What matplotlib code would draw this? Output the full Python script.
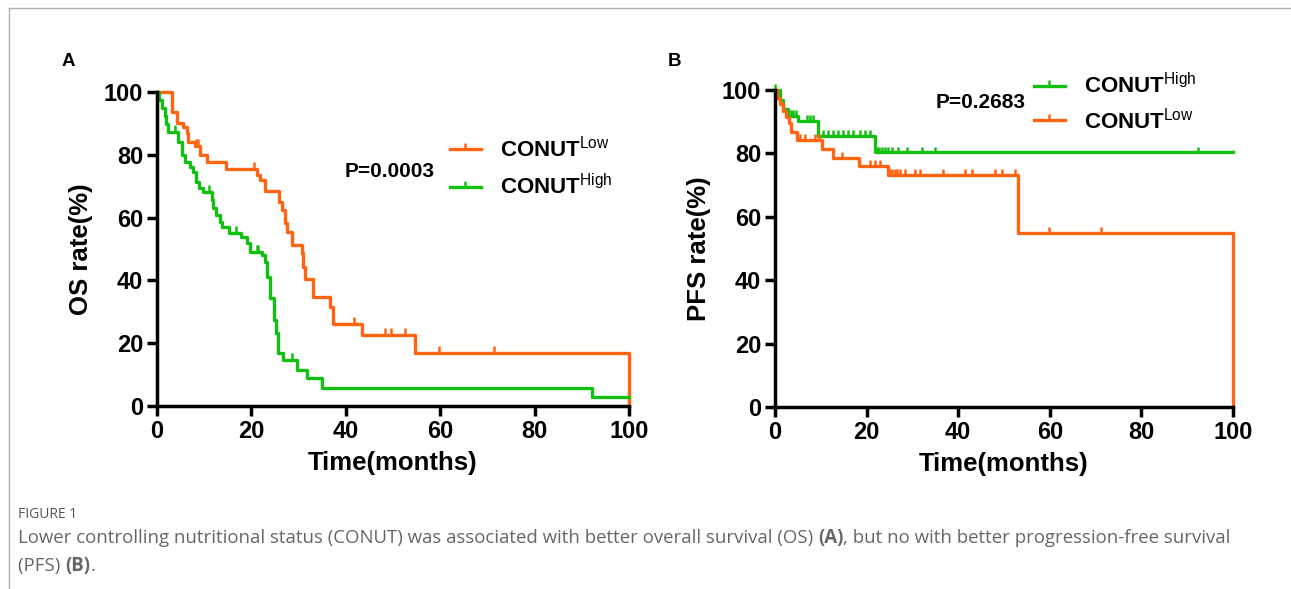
"""Kaplan-Meier curves for OS and PFS by CONUT group (Figure 1 recreation)."""
import numpy as np
import matplotlib
matplotlib.use("Agg")
import matplotlib.pyplot as plt
from matplotlib.lines import Line2D
from matplotlib.path import Path

plt.rcParams["font.family"] = ["Liberation Sans", "DejaVu Sans"]
plt.rcParams["mathtext.fontset"] = "custom"
plt.rcParams["mathtext.rm"] = "Liberation Sans"
plt.rcParams["mathtext.bf"] = "Liberation Sans:bold"

ORANGE = "#ff6410"
GREEN = "#12c012"

# ---- panel A: overall survival ----
os_low_t = [0, 3.1, 4.3, 5.6, 6.3, 6.6, 8.0, 9.1, 10.5, 14.6, 21.1, 21.8, 22.9, 25.9,
            26.4, 27.1, 27.5, 28.5, 30.7, 31.0, 31.4, 33.1, 36.7, 37.2, 43.4, 54.7, 100]
os_low_s = [100, 93.7, 90.0, 89.0, 87.0, 84.0, 82.7, 80.0, 77.8, 75.4, 73.6, 72.0, 68.6, 65.0,
            62.4, 58.2, 55.5, 51.3, 48.6, 44.4, 40.6, 34.8, 31.6, 26.0, 22.6, 17.0, 0]
os_low_cens = [8.2, 8.6, 20.5, 41.7, 48.3, 49.5, 52.6, 59.8, 71.3]

os_high_t = [0, 0.5, 1.0, 1.6, 2.0, 2.4, 4.5, 5.2, 5.9, 7.0, 7.6, 8.3, 8.8, 9.8, 11.6, 11.9,
             12.6, 13.3, 13.7, 15.3, 17.9, 19.0, 19.7, 22.2, 22.9, 23.2, 23.9, 24.8, 25.2,
             25.7, 26.8, 29.6, 31.7, 34.9, 92.1, 100]
os_high_s = [100, 97.4, 94.9, 92.3, 89.7, 87.4, 84.0, 80.0, 77.8, 76.2, 74.6, 71.4, 69.3, 68.2,
             65.6, 63.0, 60.8, 58.7, 57.1, 55.0, 53.9, 51.8, 49.1, 48.1, 46.0, 41.2, 34.3, 27.4,
             23.1, 16.8, 14.6, 11.5, 8.8, 5.6, 2.8, 2.8]
os_high_cens = [3.8, 11.0, 16.7, 21.1, 21.5, 28.7]

# ---- panel B: progression-free survival ----
pfs_high_t = [0, 1.1, 1.8, 2.9, 5.0, 9.4, 21.8, 100]
pfs_high_s = [100, 96.8, 94.0, 91.8, 90.3, 85.5, 80.3, 80.3]
pfs_high_cens = [0, 3.5, 4.0, 4.5, 7.0, 7.6, 8.2, 10.5, 11.6, 12.7, 13.8, 14.9, 16.0, 17.1,
                 18.6, 19.7, 20.7, 22.2, 22.8, 23.3, 24.0, 24.7, 25.5, 26.9, 28.8, 32.0,
                 34.9, 92.3]

pfs_low_t = [0, 0.4, 1.1, 1.8, 2.5, 3.1, 3.5, 4.7, 10.2, 12.7, 18.3, 24.7, 53.1, 100]
pfs_low_s = [100, 97.5, 95.5, 93.5, 91.5, 89.5, 86.9, 84.2, 81.4, 78.7, 76.1, 73.2, 55.0, 0]
pfs_low_cens = [5.5, 6.6, 8.7, 9.5, 14.6, 20.7, 21.8, 22.9, 25.1, 25.6, 26.2, 26.7, 27.3,
                28.4, 30.6, 31.7, 36.7, 41.5, 43.0, 48.0, 49.6, 52.4, 59.9, 71.2]

ticks = [0, 20, 40, 60, 80, 100]


def km(ax, t, s, cens, color, tick=2.2):
    ax.step(t, s, where="post", color=color, lw=2.4, clip_on=False)
    t = np.asarray(t)
    s = np.asarray(s)
    cy = s[np.searchsorted(t, cens, side="right") - 1]
    ax.vlines(cens, cy, cy + tick, color=color, lw=1.8, clip_on=False)


def style(ax, ylabel):
    ax.set_xlim(0, 100)
    ax.set_ylim(0, 100)
    ax.set_xticks(ticks)
    ax.set_yticks(ticks)
    for side in ("top", "right"):
        ax.spines[side].set_visible(False)
    for side in ("left", "bottom"):
        ax.spines[side].set_linewidth(2.5)
    ax.tick_params(length=7, width=2.5, labelsize=17, pad=3)
    for lab in ax.get_xticklabels() + ax.get_yticklabels():
        lab.set_fontweight("bold")
    ax.set_xlabel("Time(months)", fontsize=18.5, fontweight="bold", labelpad=6)
    ax.set_ylabel(ylabel, fontsize=18.5, fontweight="bold", labelpad=8)


tick_marker = Path([(0, 0), (0, 1)])


def handle(color):
    return Line2D([], [], color=color, lw=2.4, marker=tick_marker, markersize=9,
                  markeredgewidth=1.8, markevery=[0])


fig = plt.figure(figsize=(12.91, 5.89), dpi=100)

axA = fig.add_axes([157 / 1291, 1 - 406 / 589, 472 / 1291, 314 / 589])
km(axA, os_low_t, os_low_s, os_low_cens, ORANGE)
km(axA, os_high_t, os_high_s, os_high_cens, GREEN)
style(axA, "OS rate(%)")
axA.text(0.398, 0.748, "P=0.0003", transform=axA.transAxes, fontsize=15,
         fontweight="bold", va="center")
axA.legend([handle(ORANGE), handle(GREEN)],
           [r"CONUT$^{\mathrm{Low}}$", r"CONUT$^{\mathrm{High}}$"],
           loc="upper left", bbox_to_anchor=(0.62, 0.86), frameon=False,
           prop={"size": 16, "weight": "bold"}, handlelength=1.4, handletextpad=0.85,
           labelspacing=0.55, borderpad=0, borderaxespad=0)

axB = fig.add_axes([775 / 1291, 1 - 407 / 589, 458 / 1291, 317 / 589])
km(axB, pfs_high_t, pfs_high_s, pfs_high_cens, GREEN, tick=1.8)
km(axB, pfs_low_t, pfs_low_s, pfs_low_cens, ORANGE, tick=1.8)
style(axB, "PFS rate(%)")
axB.text(0.35, 0.96, "P=0.2683", transform=axB.transAxes, fontsize=15,
         fontweight="bold", va="center")
axB.legend([handle(GREEN), handle(ORANGE)],
           [r"CONUT$^{\mathrm{High}}$", r"CONUT$^{\mathrm{Low}}$"],
           loc="upper left", bbox_to_anchor=(0.565, 1.053), frameon=False,
           prop={"size": 16, "weight": "bold"}, handlelength=1.4, handletextpad=0.85,
           labelspacing=0.4, borderpad=0, borderaxespad=0)

fig.text(62 / 1291, 1 - 62 / 589, "A", fontsize=13.5, fontweight="bold", va="center")
fig.text(668 / 1291, 1 - 62 / 589, "B", fontsize=13.5, fontweight="bold", va="center")

# frame lines of the figure box
fig.add_artist(Line2D([9 / 1291, 9 / 1291], [0, 1 - 8 / 589], color="#b0b0b0", lw=1))
fig.add_artist(Line2D([9 / 1291, 1], [1 - 8 / 589, 1 - 8 / 589], color="#b0b0b0", lw=1))

# caption
cap_font = ["Open Sans", "DejaVu Sans"]
fig.text(18 / 1291, 1 - 515 / 589, "FIGURE 1", fontsize=10, color="#555555",
         family=cap_font, va="center")

renderer = fig.canvas.get_renderer()


def runs(x, y, parts):
    for txt, weight in parts:
        t = fig.text(x, y, txt, fontsize=13.4, color="#666666", family=cap_font,
                     fontweight=weight, va="center")
        x += t.get_window_extent(renderer).width / fig.bbox.width


runs(18 / 1291, 1 - 538 / 589, [
    ("Lower controlling nutritional status (CONUT) was associated with better overall "
     "survival (OS) ", "normal"),
    ("(A)", "bold"),
    (", but no with better progression-free survival", "normal"),
])
runs(18 / 1291, 1 - 566 / 589, [("(PFS) ", "normal"), ("(B)", "bold"), (".", "normal")])

fig.savefig("out.png", dpi=100)
